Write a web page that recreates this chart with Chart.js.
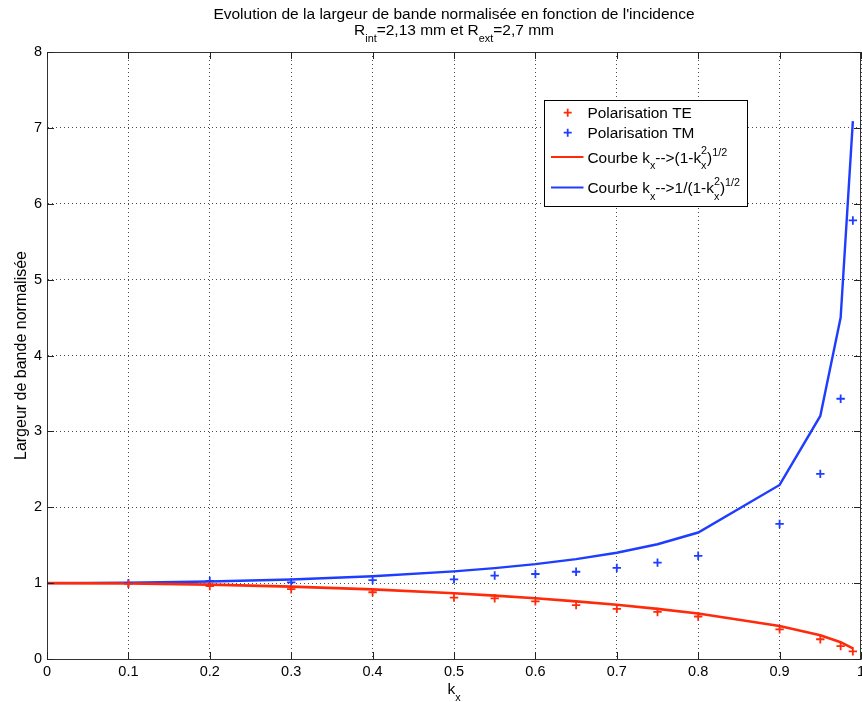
<!DOCTYPE html>
<html>
<head>
<meta charset="utf-8">
<script src="https://cdn.jsdelivr.net/npm/chart.js@4/dist/chart.umd.min.js"></script>
<style>
html,body{margin:0;padding:0;background:#fff;}
canvas{display:block;}
</style>
</head>
<body>
<canvas id="c" width="862" height="702" style="width:862px;height:702px"></canvas>
<script>
// ---- data ----
const kx = [0, 0.1, 0.2, 0.3, 0.4, 0.5, 0.55, 0.6, 0.65, 0.7, 0.75, 0.8, 0.9, 0.95, 0.975, 0.99];
const polarisationTE = [1.00, 0.99, 0.96, 0.92, 0.88, 0.81, 0.80, 0.76, 0.71, 0.66, 0.62, 0.56, 0.39, 0.26, 0.17, 0.10];
const polarisationTM = [1.00, 1.00, 1.03, 1.01, 1.04, 1.05, 1.10, 1.12, 1.15, 1.20, 1.27, 1.36, 1.78, 2.44, 3.43, 5.78];
const courbeTE = [1.000, 0.995, 0.980, 0.954, 0.917, 0.866, 0.835, 0.800, 0.760, 0.714, 0.661, 0.600, 0.436, 0.312, 0.222, 0.141];
const courbeTM = [1.000, 1.005, 1.021, 1.048, 1.091, 1.155, 1.197, 1.250, 1.316, 1.400, 1.512, 1.667, 2.294, 3.203, 4.500, 7.089];
const xTickValues = [0, 0.1, 0.2, 0.3, 0.4, 0.5, 0.6, 0.7, 0.8, 0.9, 1];
const yTickValues = [0, 1, 2, 3, 4, 5, 6, 7, 8];

const titleLine1 = "Evolution de la largeur de bande normalisée en fonction de l'incidence";
const titleLine2 = [{t:'R'},{t:'int',s:'sub'},{t:'=2,13 mm et R'},{t:'ext',s:'sub'},{t:'=2,7 mm'}];
const xLabel = [{t:'k'},{t:'x',s:'sub'}];
const yLabel = 'Largeur de bande normalisée';
const legendLabels = [
  [{t:'Polarisation TE'}],
  [{t:'Polarisation TM'}],
  [{t:'Courbe k'},{t:'x',s:'sub'},{t:'-->(1-k'},{s:'both',sup:'2',sub:'x'},{t:')'},{t:'1/2',s:'sup'}],
  [{t:'Courbe k'},{t:'x',s:'sub'},{t:'-->1/(1-k'},{s:'both',sup:'2',sub:'x'},{t:')'},{t:'1/2',s:'sup'}]
];

const RED = '#ff2a0a';
const BLUE = '#1f3dff';
const FONT = '"Liberation Sans", Arial, Helvetica, sans-serif';
const SMALL = 0.7;

function richWidth(ctx, parts, size){
  let w = 0;
  for (const p of parts){
    if (!p.s){ ctx.font = size+'px '+FONT; w += ctx.measureText(p.t).width; }
    else if (p.s==='both'){ ctx.font = (size*SMALL)+'px '+FONT; w += Math.max(ctx.measureText(p.sup).width, ctx.measureText(p.sub).width); }
    else { ctx.font = (size*SMALL)+'px '+FONT; w += ctx.measureText(p.t).width; }
  }
  return w;
}
function drawRich(ctx, parts, x, y, size, align){
  const w = richWidth(ctx, parts, size);
  let cx = align==='center' ? x - w/2 : x;
  ctx.textAlign = 'left';
  ctx.textBaseline = 'alphabetic';
  const small = size*SMALL;
  for (const p of parts){
    if (!p.s){ ctx.font = size+'px '+FONT; ctx.fillText(p.t, cx, y); cx += ctx.measureText(p.t).width; }
    else if (p.s==='sub'){ ctx.font = small+'px '+FONT; ctx.fillText(p.t, cx, y + size*0.42); cx += ctx.measureText(p.t).width; }
    else if (p.s==='sup'){ ctx.font = small+'px '+FONT; ctx.fillText(p.t, cx, y - size*0.45); cx += ctx.measureText(p.t).width; }
    else { ctx.font = small+'px '+FONT; ctx.fillText(p.sup, cx, y - size*0.55); ctx.fillText(p.sub, cx, y + size*0.42);
      cx += Math.max(ctx.measureText(p.sup).width, ctx.measureText(p.sub).width); }
  }
}

const decor = {
  id: 'decor',
  afterDraw(chart){
    const ctx = chart.ctx;
    const a = chart.chartArea;
    const xs = chart.scales.x, ys = chart.scales.y;
    ctx.save();
    // box
    ctx.strokeStyle = '#333';
    ctx.lineWidth = 1;
    ctx.beginPath();
    ctx.moveTo(a.left+0.5, a.bottom+0.5); ctx.lineTo(a.left+0.5, a.top+0.5);
    ctx.lineTo(a.right-0.5, a.top+0.5); ctx.lineTo(a.right-0.5, a.bottom+0.5);
    ctx.closePath(); ctx.stroke();
    // inward ticks
    ctx.strokeStyle = '#222';
    ctx.beginPath();
    for (const v of xTickValues){
      const px = Math.round(xs.getPixelForValue(v))+0.5;
      ctx.moveTo(px, a.bottom); ctx.lineTo(px, a.bottom-7);
      ctx.moveTo(px, a.top); ctx.lineTo(px, a.top+7);
    }
    for (const v of yTickValues){
      const py = Math.round(ys.getPixelForValue(v))+0.5;
      ctx.moveTo(a.left, py); ctx.lineTo(a.left+7, py);
      ctx.moveTo(a.right, py); ctx.lineTo(a.right-7, py);
    }
    ctx.stroke();
    // title
    ctx.fillStyle = '#000';
    const cxm = (a.left + a.right)/2;
    ctx.font = '15.5px '+FONT; ctx.textAlign='center'; ctx.textBaseline='alphabetic';
    ctx.fillText(titleLine1, cxm, 19);
    drawRich(ctx, titleLine2, cxm, 35, 15.5, 'center');
    // x label
    drawRich(ctx, xLabel, cxm, 694, 15.5, 'center');
    // y label
    ctx.save();
    ctx.translate(26, (a.top + a.bottom)/2);
    ctx.rotate(-Math.PI/2);
    ctx.font = '16px '+FONT; ctx.textAlign='center'; ctx.textBaseline='alphabetic';
    ctx.fillText(yLabel, 0, 0);
    ctx.restore();
    // legend
    const L = 544, T = 100, R = 747, B = 206;
    ctx.fillStyle = '#fff';
    ctx.fillRect(L, T, R-L, B-T);
    ctx.strokeStyle = '#000'; ctx.lineWidth = 1;
    ctx.strokeRect(L+0.5, T+0.5, R-L, B-T);
    const rows = [
      {y:112.7, base:117.5, kind:'cross', color:RED},
      {y:132.7, base:137.5, kind:'cross', color:BLUE},
      {y:157, base:162.7, kind:'line', color:RED},
      {y:187.5, base:193.3, kind:'line', color:BLUE}
    ];
    rows.forEach((r,i)=>{
      ctx.strokeStyle = r.color;
      if (r.kind==='cross'){
        ctx.lineWidth = 1.8;
        ctx.beginPath();
        ctx.moveTo(567.7-4, r.y); ctx.lineTo(567.7+4, r.y);
        ctx.moveTo(567.7, r.y-4); ctx.lineTo(567.7, r.y+4);
        ctx.stroke();
      } else {
        ctx.lineWidth = 2;
        ctx.beginPath(); ctx.moveTo(551, r.y); ctx.lineTo(583.5, r.y); ctx.stroke();
      }
      ctx.fillStyle = '#000';
      drawRich(ctx, legendLabels[i], 587.5, r.base, 15.4, 'left');
    });
    ctx.restore();
  }
};

const pts = ys => kx.map((x,i)=>({x:x, y:ys[i]}));

new Chart(document.getElementById('c'), {
  type: 'scatter',
  data: {
    datasets: [
      {label:'Polarisation TE', data: pts(polarisationTE), pointStyle:'cross', pointRadius:4.2, borderColor:RED, backgroundColor:RED, pointBorderWidth:1.8, showLine:false},
      {label:'Polarisation TM', data: pts(polarisationTM), pointStyle:'cross', pointRadius:4.2, borderColor:BLUE, backgroundColor:BLUE, pointBorderWidth:1.8, showLine:false},
      {label:'Courbe TE', data: pts(courbeTE), showLine:true, pointRadius:0, borderColor:RED, borderWidth:2.6, tension:0, fill:false},
      {label:'Courbe TM', data: pts(courbeTM), showLine:true, pointRadius:0, borderColor:BLUE, borderWidth:2.4, tension:0, fill:false}
    ]
  },
  options: {
    responsive: false,
    animation: false,
    devicePixelRatio: 1,
    layout: {autoPadding: false, padding: {top: 52, right: 1, left: 0, bottom: 0}},
    plugins: {legend: {display: false}, title: {display: false}, tooltip: {enabled: false}},
    scales: {
      x: {
        type: 'linear', min: 0, max: 1,
        afterBuildTicks: s => { s.ticks = xTickValues.map(v => ({value: v})); },
        ticks: {callback: v => String(Math.round(v*10)/10), color: '#000', font: {family: FONT, size: 14.5}, padding: 4, maxRotation: 0, autoSkip: false},
        grid: {color: 'rgba(0,0,0,0.7)', lineWidth: 1, drawTicks: false},
        border: {display: true, color: '#7f7f7f', width: 1, dash: [1, 3]},
        afterFit: s => { s.height = 43; s.paddingLeft = 0; s.paddingRight = 0; }
      },
      y: {
        type: 'linear', min: 0, max: 8,
        afterBuildTicks: s => { s.ticks = yTickValues.map(v => ({value: v})); },
        ticks: {callback: v => String(v), color: '#000', font: {family: FONT, size: 14.5}, padding: 5, autoSkip: false},
        grid: {color: 'rgba(0,0,0,0.7)', lineWidth: 1, drawTicks: false},
        border: {display: true, color: '#7f7f7f', width: 1, dash: [1, 3]},
        afterFit: s => { s.width = 47; s.paddingTop = 0; s.paddingBottom = 0; }
      }
    }
  },
  plugins: [decor]
});
</script>
</body>
</html>
